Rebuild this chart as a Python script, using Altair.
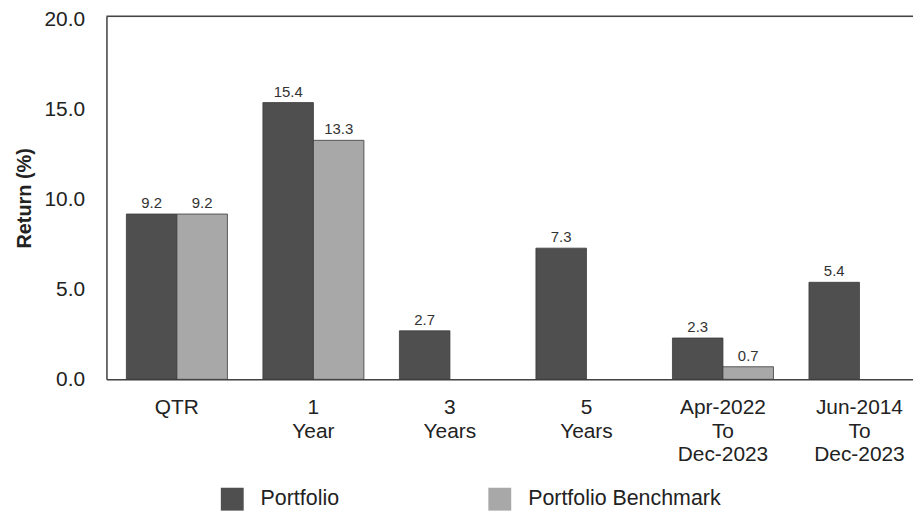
import altair as alt
import pandas as pd

categories = ["QTR", "1|Year", "3|Years", "5|Years", "Apr-2022|To|Dec-2023", "Jun-2014|To|Dec-2023"]
series_names = ["Portfolio", "Portfolio Benchmark"]
portfolio = [9.2, 15.4, 2.7, 7.3, 2.3, 5.4]
benchmark = [9.2, 13.3, None, None, 0.7, None]
colors = ["#4f4f4f", "#a8a8a8"]
y_ticks = [0, 5, 10, 15, 20]

rows = []
for c, p, b in zip(categories, portfolio, benchmark):
    if p is not None:
        rows.append({"cat": c, "series": series_names[0], "value": p})
    if b is not None:
        rows.append({"cat": c, "series": series_names[1], "value": b})
df = pd.DataFrame(rows)

FONT = "Liberation Sans"

x = alt.X("cat:N", sort=categories, title=None,
          scale=alt.Scale(paddingInner=0.26, paddingOuter=0.146, range=[0, 828]),
          axis=alt.Axis(labelExpr="split(datum.label, '|')", labelAngle=0,
                        labelFontSize=21, labelFont=FONT, labelColor="#222",
                        labelPadding=17, labelLineHeight=24, labelBaseline="top",
                        ticks=False, domainColor="#444", domainWidth=1.5))
xo = alt.XOffset("series:N", sort=series_names, scale=alt.Scale(paddingInner=0, paddingOuter=0))
y = alt.Y("value:Q", title="Return (%)",
          scale=alt.Scale(domain=[0, 20.2], nice=False),
          axis=alt.Axis(values=y_ticks, format=".1f", grid=False, ticks=False,
                        labelFontSize=21, labelFont=FONT, labelColor="#222", labelPadding=22,
                        titleFontSize=20, titleFont=FONT, titleFontWeight="bold",
                        titleColor="#222", titlePadding=9,
                        domainColor="#444", domainWidth=1.5))

bars = alt.Chart(df).mark_bar(stroke="#3a3a3a", strokeWidth=0.8).encode(
    x=x, xOffset=xo, y=y,
    color=alt.Color("series:N", sort=series_names, title=None,
                    scale=alt.Scale(domain=series_names, range=colors),
                    legend=alt.Legend(orient="none", legendX=115, legendY=474,
                                      direction="horizontal", symbolType="square",
                                      symbolSize=529, symbolStrokeWidth=0,
                                      labelFontSize=21.5, labelFont=FONT, labelColor="#222",
                                      labelOffset=17, labelLimit=400, columnPadding=150,
                                      padding=0)),
)

labels = alt.Chart(df).mark_text(baseline="bottom", dy=-3, fontSize=15, font=FONT, color="#333").encode(
    x=x, xOffset=xo, y="value:Q", text=alt.Text("value:Q", format=".1f"),
)

top = alt.Chart(pd.DataFrame({"v": [20.2]})).mark_rule(color="#444", strokeWidth=1.5).encode(
    y=alt.Y("v:Q")
)

chart = alt.layer(bars, labels, top).properties(
    width=811, height=365,
    autosize=alt.AutoSizeParams(type="none"),
    padding={"left": 99, "top": 7, "right": 0, "bottom": 132},
).configure_view(stroke=None).configure(background="white")

chart.save("out.html", embed_options={"renderer": "svg", "actions": False})
